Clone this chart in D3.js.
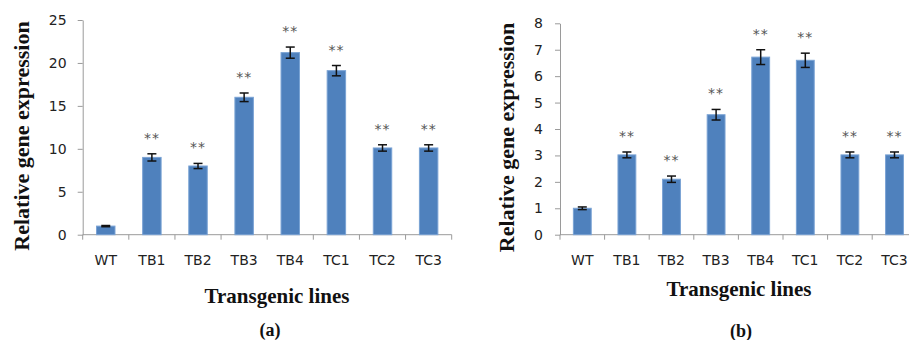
<!DOCTYPE html>
<html>
<head>
<meta charset="utf-8">
<script src="https://cdn.jsdelivr.net/npm/d3@7"></script>
<style>
  html, body { margin: 0; padding: 0; background: #fff; }
  svg { display: block; }
</style>
</head>
<body>
<svg id="chart" width="909" height="340"></svg>
<script>
const categories = ["WT", "TB1", "TB2", "TB3", "TB4", "TC1", "TC2", "TC3"];

const valuesA = [1.0, 9.0, 8.0, 16.0, 21.2, 19.1, 10.1, 10.1];
const errorsA = [0.07, 0.42, 0.3, 0.5, 0.65, 0.6, 0.37, 0.37];
const ticksA = [0, 5, 10, 15, 20, 25];

const valuesB = [1.0, 3.02, 2.1, 4.54, 6.72, 6.6, 3.02, 3.02];
const errorsB = [0.05, 0.11, 0.12, 0.2, 0.28, 0.27, 0.11, 0.11];
const ticksB = [0, 1, 2, 3, 4, 5, 6, 7, 8];

const signif = ["", "**", "**", "**", "**", "**", "**", "**"];

const yLabel = "Relative gene expression";
const xLabel = "Transgenic lines";

const svg = d3.select("#chart");
svg.append("rect").attr("width", 909).attr("height", 340).attr("fill", "#fff");

function panel(cfg) {
  const g = svg.append("g");
  const x = d3.scaleBand().domain(categories).range([cfg.left, cfg.right]).paddingInner(0.6).paddingOuter(0.3);
  const y = d3.scaleLinear().domain([0, cfg.max]).range([cfg.bottom, cfg.top]);

  // y axis
  const ya = g.append("g").attr("transform", `translate(${cfg.left},0)`)
    .call(d3.axisLeft(y).tickValues(cfg.ticks).tickSize(5).tickSizeOuter(0).tickPadding(cfg.pad));
  ya.select(".domain").attr("stroke", "#9a9a9a");
  ya.selectAll(".tick line").attr("stroke", "#9a9a9a");
  ya.selectAll(".tick text").attr("fill", "#222").style("font-family", "'DejaVu Sans', Verdana, sans-serif").style("font-size", "14px");

  // x axis baseline and boundary ticks
  const bounds = d3.range(categories.length + 1).map(i => cfg.left + i * x.step());
  g.append("line").attr("x1", cfg.left).attr("x2", cfg.right).attr("y1", cfg.bottom).attr("y2", cfg.bottom).attr("stroke", "#9a9a9a");
  g.selectAll(".xt").data(bounds).join("line")
    .attr("x1", d => d).attr("x2", d => d).attr("y1", cfg.bottom).attr("y2", cfg.bottom + 5).attr("stroke", "#9a9a9a");

  // x labels
  g.selectAll(".xl").data(categories).join("text")
    .attr("x", d => x(d) + x.bandwidth() / 2).attr("y", 265)
    .attr("text-anchor", "middle").attr("fill", "#222")
    .style("font-family", "'DejaVu Sans', Verdana, sans-serif").style("font-size", "14px")
    .text(d => d);

  const data = categories.map((c, i) => ({ c, v: cfg.values[i], e: cfg.errors[i], s: signif[i] }));

  // bars
  g.selectAll(".bar").data(data).join("rect")
    .attr("x", d => x(d.c)).attr("width", x.bandwidth())
    .attr("y", d => y(d.v)).attr("height", d => y(0) - y(d.v))
    .attr("fill", "#4f81bd").attr("stroke", "#79a2d4").attr("stroke-width", 1);

  // error bars
  const eb = g.selectAll(".eb").data(data).join("g");
  const cx = d => x(d.c) + x.bandwidth() / 2;
  eb.append("line").attr("x1", cx).attr("x2", cx).attr("y1", d => y(d.v + d.e)).attr("y2", d => y(d.v - d.e))
    .attr("stroke", "#111").attr("stroke-width", 1.5);
  eb.append("line").attr("x1", d => cx(d) - 4.5).attr("x2", d => cx(d) + 4.5).attr("y1", d => y(d.v + d.e)).attr("y2", d => y(d.v + d.e))
    .attr("stroke", "#111").attr("stroke-width", 1.5);
  eb.append("line").attr("x1", d => cx(d) - 4.5).attr("x2", d => cx(d) + 4.5).attr("y1", d => y(d.v - d.e)).attr("y2", d => y(d.v - d.e))
    .attr("stroke", "#111").attr("stroke-width", 1.5);

  // significance stars
  g.selectAll(".st").data(data.filter(d => d.s)).join("text")
    .attr("x", cx).attr("y", d => y(d.v + d.e) - 11)
    .attr("text-anchor", "middle").attr("fill", "#555")
    .style("font-family", "'DejaVu Sans', sans-serif").style("font-size", "14px").style("letter-spacing", "1px")
    .text(d => d.s);

  // y label
  g.append("text")
    .attr("transform", `translate(${cfg.ylx},${cfg.yly}) rotate(-90)`)
    .attr("text-anchor", "middle").attr("fill", "#111")
    .style("font-family", "'Liberation Serif', 'Times New Roman', serif").style("font-weight", "bold").style("font-size", "22px")
    .text(yLabel);

  // x label
  g.append("text").attr("x", cfg.xlx).attr("y", cfg.xly)
    .attr("text-anchor", "middle").attr("fill", "#111")
    .style("font-family", "'Liberation Serif', 'Times New Roman', serif").style("font-weight", "bold").style("font-size", "21px")
    .text(xLabel);

  // panel letter
  g.append("text").attr("x", cfg.plx).attr("y", cfg.ply)
    .attr("text-anchor", "middle").attr("fill", "#111")
    .style("font-family", "'Liberation Serif', 'Times New Roman', serif").style("font-weight", "bold").style("font-size", "18px")
    .text(cfg.letter);
}

panel({ left: 82.7, right: 451.7, top: 20, bottom: 234.7, max: 25, ticks: ticksA, values: valuesA, errors: errorsA, pad: 11,
  ylx: 28.5, yly: 136, xlx: 277, xly: 303, plx: 270, ply: 336, letter: "(a)" });
panel({ left: 560, right: 916.8, top: 23.3, bottom: 234.7, max: 8, ticks: ticksB, values: valuesB, errors: errorsB, pad: 12,
  ylx: 513.5, yly: 137.5, xlx: 739, xly: 295.5, plx: 741, ply: 337, letter: "(b)" });
</script>
</body>
</html>
